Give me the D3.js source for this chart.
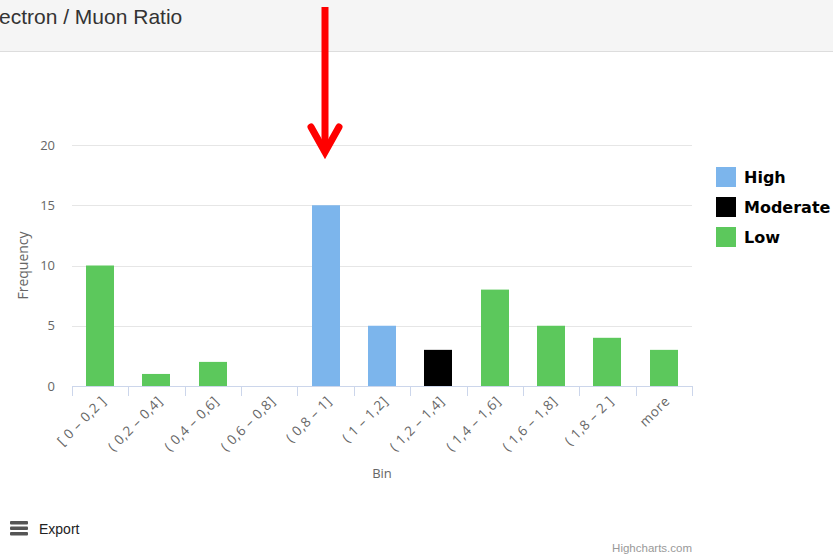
<!DOCTYPE html>
<html>
<head>
<meta charset="utf-8">
<script src="https://cdn.jsdelivr.net/npm/d3@7"></script>
<style>
  html, body { margin: 0; padding: 0; background: #fff; overflow: hidden; }
  svg { display: block; }
</style>
</head>
<body>
<div id="chart"></div>
<script>
const bins = ["[ 0 – 0,2 ]", "( 0,2 – 0,4]", "( 0,4 – 0,6]", "( 0,6 – 0,8]", "( 0,8 – 1]", "( 1 – 1,2]",
  "( 1,2 – 1,4]", "( 1,4 – 1,6]", "( 1,6 – 1,8]", "( 1,8 – 2 ]", "more"]
const frequency = [10, 1, 2, 0, 15, 5, 3, 8, 5, 4, 3]
const level = ["Low", "Low", "Low", "Low", "High", "High", "Moderate", "Low", "Low", "Low", "Low"]
const levels = ["High", "Moderate", "Low"]
const yTicks = [0, 5, 10, 15, 20]

const width = 833
const height = 555
const font = "'Open Sans', 'DejaVu Sans', sans-serif"

const colors = {
  High: "#7cb5ec",
  Moderate: "#000000",
  Low: "#5cc85c"
}

const svg = d3.select("#chart")
  .append("svg")
  .attr("width", width)
  .attr("height", height)

// header strip
svg.append("rect")
  .attr("x", 0).attr("y", 0)
  .attr("width", width).attr("height", 51)
  .attr("fill", "#f5f5f5")
svg.append("line")
  .attr("x1", 0).attr("x2", width)
  .attr("y1", 51.5).attr("y2", 51.5)
  .attr("stroke", "#dddddd")
svg.append("text")
  .attr("x", -1).attr("y", 24)
  .attr("font-family", "'Liberation Sans', Arial, sans-serif")
  .attr("font-size", "21px")
  .attr("fill", "#333333")
  .text("ectron / Muon Ratio")

const x = d3.scaleBand()
  .domain(bins)
  .range([72, 692])
  .paddingInner(0.5)
  .paddingOuter(0.25)

const y = d3.scaleLinear()
  .domain([0, 20])
  .range([386, 145])

// grid
svg.append("g")
  .selectAll("line")
  .data(yTicks)
  .join("line")
  .attr("x1", 72).attr("x2", 692)
  .attr("y1", d => Math.round(y(d)) + 0.5)
  .attr("y2", d => Math.round(y(d)) + 0.5)
  .attr("stroke", "#e6e6e6")

svg.append("g")
  .selectAll("text")
  .data(yTicks)
  .join("text")
  .attr("x", 55)
  .attr("y", d => y(d) + 4.5)
  .attr("text-anchor", "end")
  .attr("font-family", font)
  .attr("font-size", "13px")
  .attr("fill", "#666666")
  .text(d => d)

svg.append("text")
  .attr("transform", `translate(28,${y(10)}) rotate(-90)`)
  .attr("text-anchor", "middle")
  .attr("font-family", font)
  .attr("font-size", "14px")
  .attr("fill", "#666666")
  .text("Frequency")

// bars
svg.append("g")
  .selectAll("rect")
  .data(bins)
  .join("rect")
  .attr("x", d => Math.round(x(d)))
  .attr("width", Math.round(x.bandwidth()))
  .attr("y", (d, i) => y(frequency[i]))
  .attr("height", (d, i) => y(0) - y(frequency[i]))
  .attr("fill", (d, i) => colors[level[i]])

// x axis line + boundary ticks
const step = x.step()
const bounds = bins.map(b => x(b) - step * 0.25).concat([692])
svg.append("line")
  .attr("x1", 72).attr("x2", 692)
  .attr("y1", 386.5).attr("y2", 386.5)
  .attr("stroke", "#ccd6eb")
svg.append("g")
  .selectAll("line")
  .data(bounds)
  .join("line")
  .attr("x1", d => Math.round(d) + 0.5).attr("x2", d => Math.round(d) + 0.5)
  .attr("y1", 386).attr("y2", 396)
  .attr("stroke", "#ccd6eb")

svg.append("g")
  .selectAll("text")
  .data(bins)
  .join("text")
  .attr("transform", d => `translate(${x(d) + x.bandwidth() / 2 + 7},${402}) rotate(-45)`)
  .attr("text-anchor", "end")
  .attr("font-family", font)
  .attr("font-size", "13.5px")
  .attr("letter-spacing", "0.6px")
  .attr("fill", "#666666")
  .text(d => d)

svg.append("text")
  .attr("x", 382).attr("y", 478)
  .attr("text-anchor", "middle")
  .attr("font-family", font)
  .attr("font-size", "13px")
  .attr("fill", "#666666")
  .text("Bin")

// legend
const legend = svg.append("g")
  .selectAll("g")
  .data(levels)
  .join("g")
  .attr("transform", (d, i) => `translate(716,${167 + i * 30})`)
legend.append("rect")
  .attr("width", 20).attr("height", 20)
  .attr("fill", d => colors[d])
legend.append("text")
  .attr("x", 28).attr("y", 16)
  .attr("font-family", "'DejaVu Sans', Verdana, sans-serif")
  .attr("font-weight", "bold")
  .attr("font-size", "16px")
  .attr("fill", "#000000")
  .text(d => d)

// export menu
const exp = svg.append("g").attr("transform", "translate(10,521)")
exp.selectAll("rect")
  .data([0, 1, 2])
  .join("rect")
  .attr("x", 0).attr("y", d => d * 5.5)
  .attr("width", 18).attr("height", 3.5)
  .attr("rx", 1)
  .attr("fill", "#555555")
svg.append("text")
  .attr("x", 39).attr("y", 534)
  .attr("font-family", "'Liberation Sans Narrow', 'Liberation Sans', sans-serif")
  .attr("font-size", "14px")
  .attr("fill", "#222222")
  .text("Export")

svg.append("text")
  .attr("x", 692).attr("y", 552)
  .attr("text-anchor", "end")
  .attr("font-family", "'Liberation Sans Narrow', 'Liberation Sans', sans-serif")
  .attr("font-size", "11.5px")
  .attr("fill", "#999999")
  .text("Highcharts.com")

// red annotation arrow
const arrow = svg.append("g")
  .attr("stroke", "#ff0000")
  .attr("fill", "none")
  .attr("stroke-width", 7)
arrow.append("line")
  .attr("x1", 325).attr("x2", 325)
  .attr("y1", 7).attr("y2", 152)
arrow.append("path")
  .attr("d", "M311,127 L325,152 L339,127")
  .attr("stroke-linecap", "round")
  .attr("stroke-linejoin", "miter")
</script>
</body>
</html>
